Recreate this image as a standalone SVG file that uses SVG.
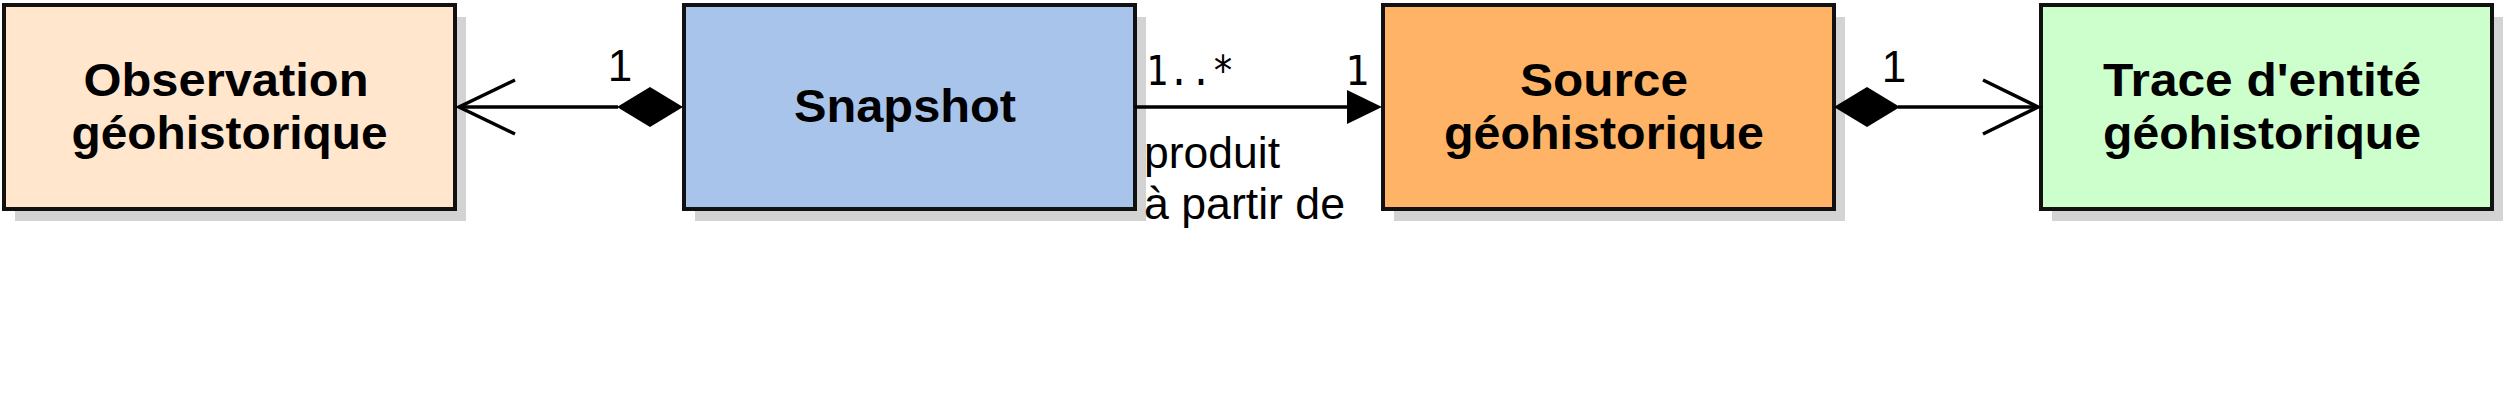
<svg xmlns="http://www.w3.org/2000/svg" width="2507" height="420" viewBox="0 0 2507 420">
  <style>
    .shadow { fill: #d3d3d3; }
    .box { stroke: #111111; stroke-width: 4; }
    .title { font-family: "Liberation Sans", Arial, sans-serif; font-weight: bold; font-size: 46px; fill: #000000; text-anchor: middle; }
    .edge { stroke: #000000; stroke-width: 3.5; fill: none; }
    .solid { fill: #000000; stroke: none; }
    .mult { font-family: "Liberation Sans", Arial, sans-serif; font-size: 44px; fill: #000000; text-anchor: middle; }
    .mono { font-family: "DejaVu Sans Mono", "Liberation Mono", monospace; font-size: 40px; fill: #000000; }
    .lbl { font-family: "Liberation Sans", Arial, sans-serif; font-size: 44px; fill: #000000; }
  </style>
  <rect width="2507" height="420" fill="#ffffff"/>

  <g id="node-observation">
    <rect class="shadow" x="15" y="17" width="451" height="204"/>
    <rect class="box" x="4" y="5" width="451" height="204" fill="#ffe6cc"/>
    <text class="title" x="226" y="96" textLength="285" lengthAdjust="spacingAndGlyphs">Observation</text>
    <text class="title" x="229.5" y="149" textLength="316" lengthAdjust="spacingAndGlyphs">géohistorique</text>
  </g>

  <g id="node-snapshot">
    <rect class="shadow" x="695" y="17" width="451" height="204"/>
    <rect class="box" x="684" y="5" width="451" height="204" fill="#a9c4eb"/>
    <text class="title" x="905" y="122" textLength="222" lengthAdjust="spacingAndGlyphs">Snapshot</text>
  </g>

  <g id="node-source">
    <rect class="shadow" x="1394" y="17" width="451" height="204"/>
    <rect class="box" x="1383" y="5" width="451" height="204" fill="#ffb366"/>
    <text class="title" x="1604" y="96" textLength="168" lengthAdjust="spacingAndGlyphs">Source</text>
    <text class="title" x="1604" y="149" textLength="320" lengthAdjust="spacingAndGlyphs">géohistorique</text>
  </g>

  <g id="node-trace">
    <rect class="shadow" x="2052" y="17" width="451" height="204"/>
    <rect class="box" x="2041" y="5" width="451" height="204" fill="#ccffcc"/>
    <text class="title" x="2262" y="96" textLength="318" lengthAdjust="spacingAndGlyphs">Trace d'entité</text>
    <text class="title" x="2262" y="149" textLength="318" lengthAdjust="spacingAndGlyphs">géohistorique</text>
  </g>

  <g id="connectors">
    <!-- Snapshot to Observation (composition) -->
    <line class="edge" x1="459" y1="107" x2="618" y2="107"/>
    <polyline class="edge" points="515,80 459,107 515,134"/>
    <polygon class="solid" points="617,107 650,87 683,107 650,127"/>
    <text class="mult" x="620" y="81">1</text>

    <!-- Snapshot to Source (produit à partir de) -->
    <line class="edge" x1="1135" y1="107" x2="1350" y2="107"/>
    <polygon class="solid" points="1347,90 1382,107 1347,124"/>
    <text class="mono" x="1146" y="85" textLength="88" lengthAdjust="spacingAndGlyphs">1..*</text>
    <text class="mono" x="1357" y="85" text-anchor="middle">1</text>
    <text class="lbl" x="1144" y="168" textLength="136" lengthAdjust="spacingAndGlyphs">produit</text>
    <text class="lbl" x="1144" y="219" textLength="201" lengthAdjust="spacingAndGlyphs">à partir de</text>

    <!-- Source to Trace (composition) -->
    <line class="edge" x1="1898" y1="107" x2="2038" y2="107"/>
    <polyline class="edge" points="1983,80 2038,107 1983,134"/>
    <polygon class="solid" points="1834,107 1867,87 1900,107 1867,127"/>
    <text class="mult" x="1894" y="82">1</text>
  </g>
</svg>
